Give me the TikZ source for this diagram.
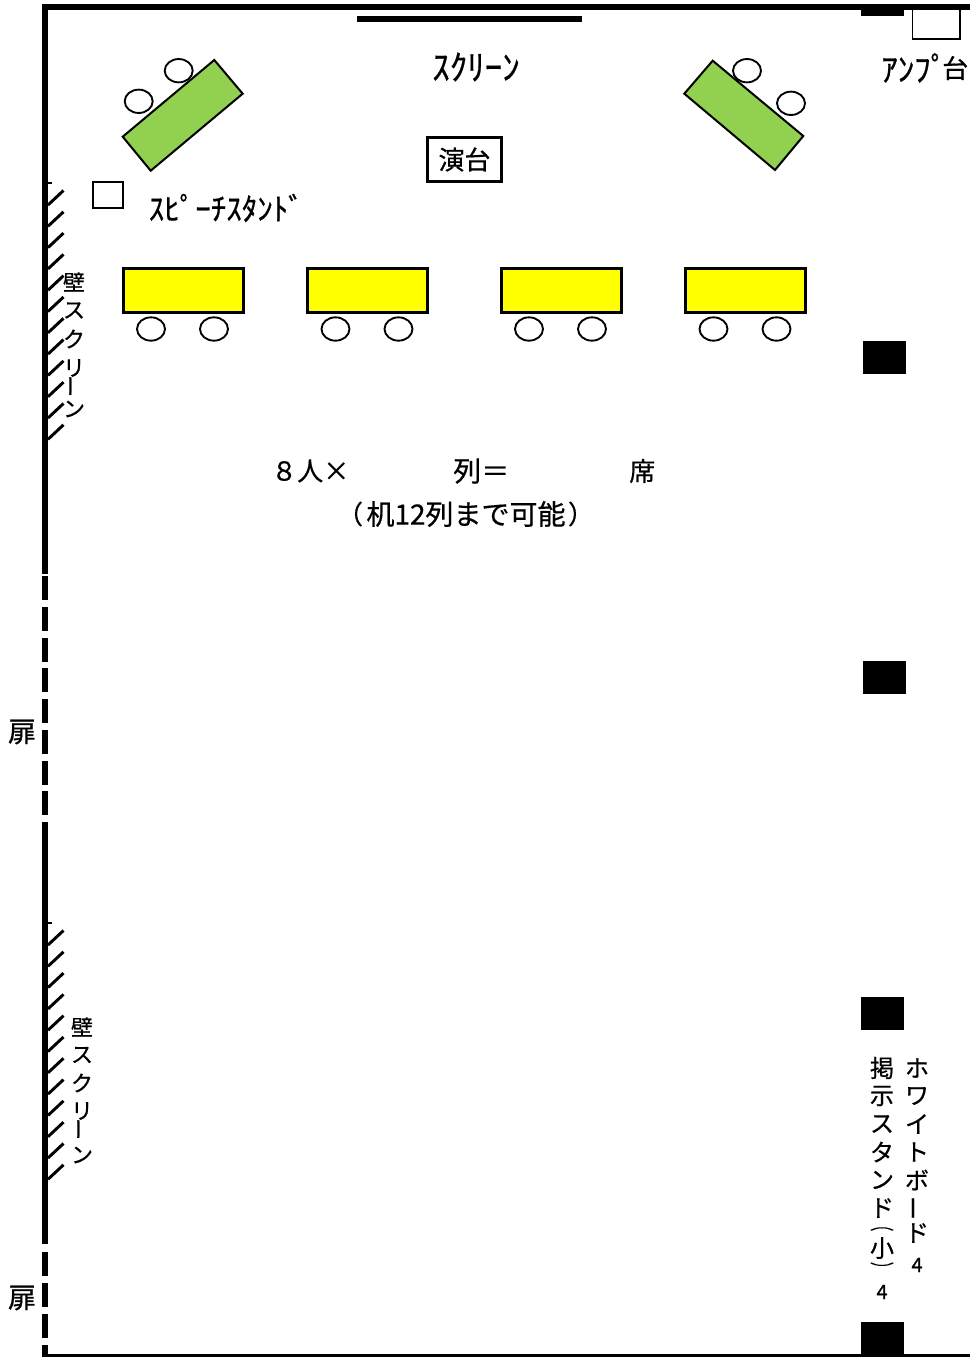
\documentclass[tikz,border=0pt]{standalone}
\usepackage{fontspec}
\setmainfont{Noto Sans CJK JP}[RawFeature={embolden=0.6}]
\newcommand{\pxf}[1]{\fontsize{\dimexpr#1pt*3/4\relax}{\dimexpr#1pt*3/4\relax}\selectfont}
\newcommand{\vbarchar}{\rotatebox[origin=c]{90}{ー}}
\definecolor{deskyellow}{RGB}{255,255,0}
\definecolor{deskgreen}{RGB}{146,208,80}
\tikzset{
  wallfill/.style={fill=black,draw=none},
  chair/.style={draw=black,fill=white,line width=1.4pt,ellipse,minimum width=21pt,minimum height=17.5pt,inner sep=0pt},
  yellowdesk/.style={draw=black,fill=deskyellow,line width=2.4pt,minimum width=90.5pt,minimum height=33pt,inner sep=0pt},
  greendesk/.style={draw=black,fill=deskgreen,line width=1.5pt,line join=miter},
  plainbox/.style={draw=black,fill=white,line width=1.1pt},
  lbl/.style={inner sep=0pt,text=black},
  hatch/.style={draw=black,line width=2.2pt},
}
\usetikzlibrary{shapes.geometric}
\begin{document}
\begin{tikzpicture}[x=0.75pt,y=-0.75pt]
\useasboundingbox (0,0) rectangle (970,1357);
% walls
\fill[wallfill] (42.3,4) rectangle (970,9.5);
\fill[wallfill] (42.3,4) rectangle (48,574);
\foreach \a/\b in {576/600,607/631,638/662,668/692,699/723,730/754,761/785,791/815,822/1244,1252/1276,1283/1307,1314/1338,1345/1357}
  \fill[wallfill] (42.3,\a) rectangle (48,\b);
\fill[wallfill] (42.3,1354) rectangle (970,1357);
% screen bar
\fill[wallfill] (357,16) rectangle (582,21.5);
% right black blocks
\fill[wallfill] (861,9) rectangle (904,16);
\fill[wallfill] (863,341) rectangle (906,374);
\fill[wallfill] (863,661) rectangle (906,694);
\fill[wallfill] (861,997) rectangle (904,1030);
\fill[wallfill] (861,1322) rectangle (904,1355);
% amp stand, speech stand
\draw[plainbox] (912.5,9.5) rectangle (960,38.8);
\draw[plainbox] (93,182) rectangle (123,208);
% hatches
\foreach \o in {0,740}{
  \draw[hatch] (48,183+\o) -- (52,183+\o);
  \foreach \k in {0,...,11}
    \draw[hatch] (48,{205+21.3*\k+\o}) -- (63.5,{190.5+21.3*\k+\o});
}
% angled desks
\draw[greendesk] (214.3,60) -- (242.7,93.7) -- (150.7,170.7) -- (122.7,136.7) -- cycle;
\draw[greendesk] (712.7,60.7) -- (803.3,136) -- (775,170) -- (684.3,93.7) -- cycle;
\node[chair] (cl1) at (178.7,70.7) {};
\node[chair] (cl2) at (138.7,101.3) {};
\node[chair] (cr1) at (747,70.7) {};
\node[chair] (cr2) at (791,103.3) {};
% yellow desks and chairs
\foreach \n/\x/\ca/\cb in {1/183.5/151/214,2/367.5/335.5/398.5,3/561.5/529/592,4/745.5/713.5/776.5}{
  \node[yellowdesk] (desk\n) at (\x,290.3) {};
  \node[chair] (chA\n) at (\ca,329) {};
  \node[chair] (chB\n) at (\cb,329) {};
}
% lectern
\node[draw=black,fill=white,line width=2.2pt,minimum width=55pt,minimum height=33pt,inner sep=0pt,font=\pxf{26}] (podium) at (464.5,159.5) {演台};
% labels
\node[lbl,anchor=center,font=\pxf{35}] (scr) at (476,67) {ｽｸﾘｰﾝ};
\node[lbl,anchor=west,font=\pxf{33}] (amp) at (881,68) {ｱﾝﾌﾟ};
\node[lbl,anchor=west,font=\pxf{26}] (ampb) at (942,68) {台};
\node[lbl,anchor=west,font=\pxf{31}] (spst) at (148.5,208) {ｽﾋﾟｰﾁｽﾀﾝﾄﾞ};
\node[lbl,anchor=west,font=\pxf{26}] (t1) at (271,471) {８人×};
\node[lbl,anchor=west,font=\pxf{28}] (t2) at (453,471) {列＝};
\node[lbl,anchor=west,font=\pxf{26}] (t3) at (629,471) {席};
\node[lbl,font=\pxf{26}] (t4a) at (350,514) {（};
\node[lbl,anchor=center,font=\pxf{28}] (t4) at (466,514) {机12列まで可能};
\node[lbl,font=\pxf{26}] (t4b) at (581,514) {）};
\node[lbl,font=\pxf{28}] (door1) at (22,732) {扉};
\node[lbl,font=\pxf{28}] (door2) at (22,1298) {扉};
% vertical labels
\foreach \c/\y/\i in {壁/282/1,ス/310.5/2,ク/339/3,リ/368/4,\vbarchar/386/5,ン/409/6}
  \node[lbl,font=\pxf{22}] (wa\i) at (74,\y) {\c};
\foreach \c/\y/\i in {壁/1027/1,ス/1055/2,ク/1083/3,リ/1111/4,\vbarchar/1129/5,ン/1155/6}
  \node[lbl,font=\pxf{22}] (wb\i) at (82,\y) {\c};
\foreach \c/\y/\i in {ホ/1068/1,ワ/1096/2,イ/1124/3,ト/1152/4,ボ/1180/5,\vbarchar/1208/6,ド/1233/7}
  \node[lbl,font=\pxf{24}] (wh\i) at (917,\y) {\c};
\node[lbl,font=\pxf{20}] (wh8) at (917,1265) {4};
\foreach \c/\y/\i in {掲/1068/1,示/1096/2,ス/1124/3,タ/1152/4,ン/1180/5,ド/1208/6}
  \node[lbl,font=\pxf{24}] (ks\i) at (882,\y) {\c};
\node[lbl,font=\pxf{24}] (ks7) at (882,1229) {\scalebox{1}[0.55]{︵}};
\node[lbl,font=\pxf{24}] (ks8) at (882,1248) {小};
\node[lbl,font=\pxf{24}] (ks9) at (882,1268) {\scalebox{1}[0.55]{︶}};
\node[lbl,font=\pxf{20}] (ks10) at (882,1292) {4};
\end{tikzpicture}
\end{document}
